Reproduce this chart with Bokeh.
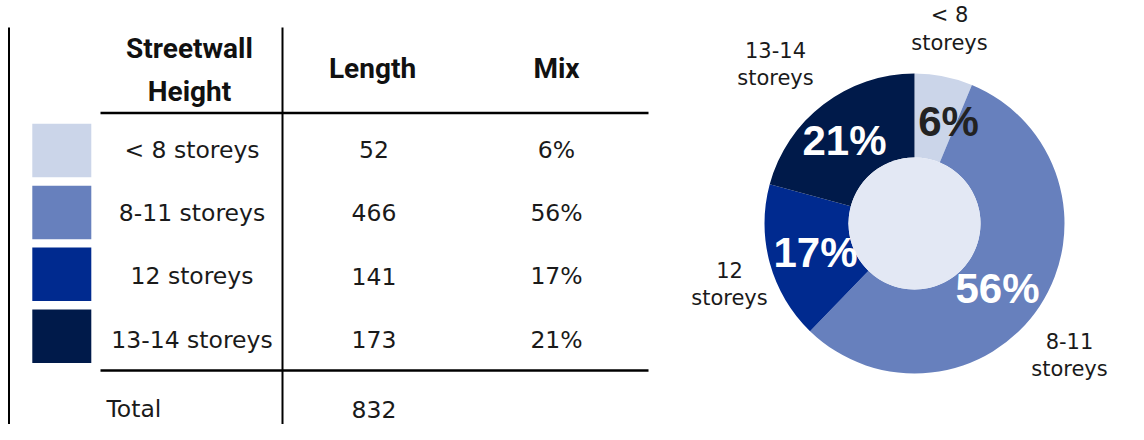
import math
from bokeh.plotting import figure
from bokeh.models import Range1d, ColumnDataSource
from bokeh.core.properties import value
from bokeh.embed import file_html
from bokeh.resources import INLINE

# ---- data ----
categories = ["< 8 storeys", "8-11 storeys", "12 storeys", "13-14 storeys"]
donut_top = ["< 8", "8-11", "12", "13-14"]
donut_bottom = ["storeys", "storeys", "storeys", "storeys"]
lengths = [52, 466, 141, 173]
colors = ["#CBD5E9", "#6780BD", "#002A8F", "#001A4A"]
pct_text_colors = ["#222222", "#FFFFFF", "#FFFFFF", "#FFFFFF"]
header_col1 = ["Streetwall", "Height"]
header_cols = ["Length", "Mix"]
total_label = "Total"

total = sum(lengths)
mix = [f"{round(100 * v / total)}%" for v in lengths]

# ---- layout (pixel space of the picture; y flipped) ----
W, H = 1128, 424

def Y(ry):
    return H - ry

ROW_FONT = value("DejaVu Sans")
HEAD_FONT = value("Roboto")
PCT_FONT = value("Liberation Sans")

p = figure(width=W, height=H, x_range=Range1d(0, W), y_range=Range1d(0, H),
           output_backend="svg", toolbar_location=None, min_border=0,
           x_axis_location=None, y_axis_location=None)
p.grid.visible = False
p.outline_line_color = None
p.background_fill_color = "white"

# table lines
p.segment(x0=[8.5, 282], y0=[Y(27), Y(27)], x1=[8.5, 282], y1=[Y(450), Y(450)],
          line_color="black", line_width=2)
p.segment(x0=[100, 100], y0=[Y(112.5), Y(370)], x1=[648, 648], y1=[Y(112.5), Y(370)],
          line_color="black", line_width=2.6)

# headers
p.text(x=[189, 189], y=[Y(47.5), Y(91)], text=header_col1, text_font=HEAD_FONT,
       text_font_style="bold", text_font_size="28px", text_align="center",
       text_baseline="middle", text_color="#111111")
p.text(x=[372, 556], y=[Y(68), Y(68)], text=header_cols, text_font=HEAD_FONT,
       text_font_style="bold", text_font_size="28px", text_align="center",
       text_baseline="middle", text_color="#111111")

# rows
n = len(categories)
sw_y = [Y(150 + 61.9 * i) for i in range(n)]
tx_y = [Y(149 + 63.4 * i) for i in range(n)]
src = ColumnDataSource(dict(cat=categories, length=[str(v) for v in lengths], mix=mix,
                            color=colors, sw_y=sw_y, tx_y=tx_y,
                            sw_x=[61.3] * n, c1=[191.5] * n, c2=[373.5] * n, c3=[556] * n))
p.rect(x="sw_x", y="sw_y", width=59, height=53.5, fill_color="color", line_color=None, source=src)
p.text(x="c1", y="tx_y", text="cat", source=src, text_font=ROW_FONT, text_font_size="23.5px",
       text_align="center", text_baseline="middle", text_color="#1a1a1a")
p.text(x="c2", y="tx_y", text="length", source=src, text_font=ROW_FONT, text_font_size="23.5px",
       text_align="center", text_baseline="middle", text_color="#1a1a1a")
p.text(x="c3", y="tx_y", text="mix", source=src, text_font=ROW_FONT, text_font_size="23.5px",
       text_align="center", text_baseline="middle", text_color="#1a1a1a")

# total row
p.text(x=[106], y=[Y(408.5)], text=[total_label], text_font=ROW_FONT, text_font_size="23.5px",
       text_align="left", text_baseline="middle", text_color="#1a1a1a")
p.text(x=[373.5], y=[Y(408.5)], text=[str(total)], text_font=ROW_FONT, text_font_size="23.5px",
       text_align="center", text_baseline="middle", text_color="#1a1a1a")

# donut
cx, cy = 914, Y(223)
cum = 0.0
starts, ends = [], []
for v in lengths:
    starts.append(math.pi / 2 - 2 * math.pi * cum / total)
    cum += v
    ends.append(math.pi / 2 - 2 * math.pi * cum / total)
dsrc = ColumnDataSource(dict(start=starts, end=ends, color=colors,
                             x=[cx] * n, y=[cy] * n))
p.annular_wedge(x="x", y="y", inner_radius=66, outer_radius=150, start_angle="start",
                end_angle="end", direction="clock", fill_color="color", line_color=None,
                source=dsrc)
p.circle(x=[cx], y=[cy], radius=66, fill_color="#E3E8F4", line_color=None)

# percentage labels inside ring
pct_off = [(34, -102), (83, 65), (-99, 29), (-70, -83)]
p.text(x=[cx + dx for dx, dy in pct_off], y=[cy - dy for dx, dy in pct_off], text=mix,
       text_font=PCT_FONT, text_font_style="bold", text_font_size="42px",
       text_align="center", text_baseline="middle", text_color=pct_text_colors)

# category labels outside ring
lab_off = [(35, -194.5), (155, 131.5), (-185, 60.5), (-139, -159.3)]
p.text(x=[cx + dx for dx, dy in lab_off], y=[cy - dy + 13.8 for dx, dy in lab_off],
       text=donut_top, text_font=ROW_FONT, text_font_size="21px", text_align="center",
       text_baseline="middle", text_color="#1a1a1a")
p.text(x=[cx + dx for dx, dy in lab_off], y=[cy - dy - 13.8 for dx, dy in lab_off],
       text=donut_bottom, text_font=ROW_FONT, text_font_size="21px", text_align="center",
       text_baseline="middle", text_color="#1a1a1a")

open("out.html", "w").write(file_html(p, INLINE))
